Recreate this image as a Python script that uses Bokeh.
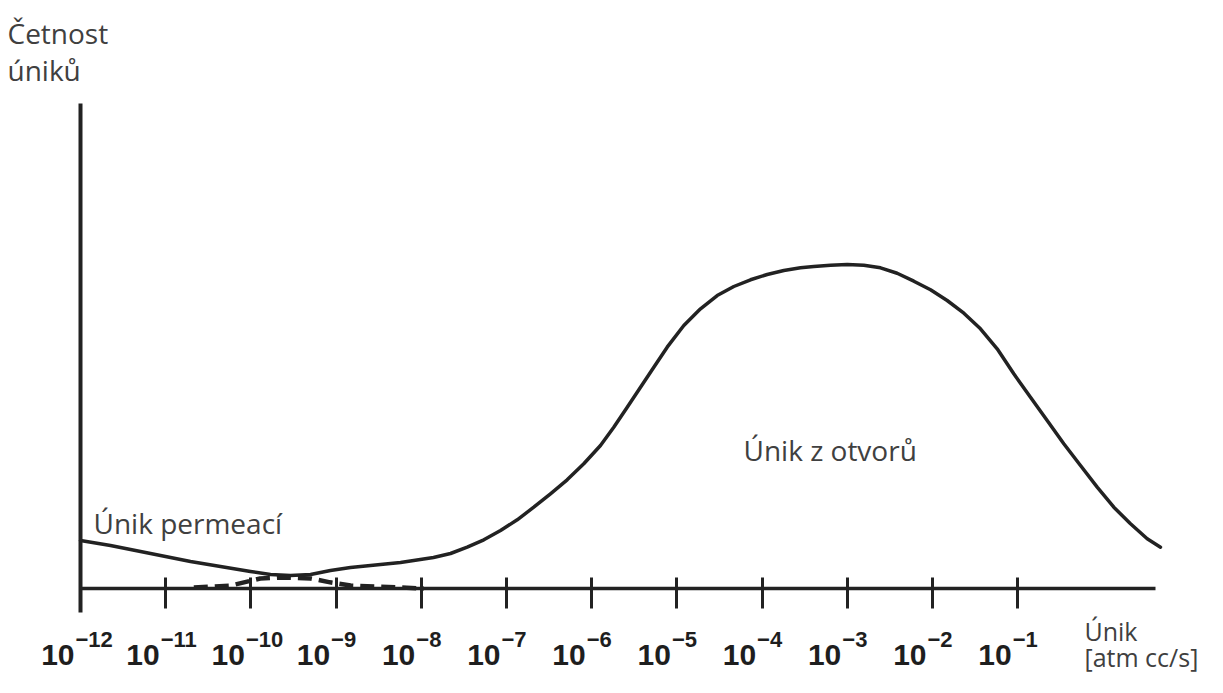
from bokeh.plotting import figure
from bokeh.models import Range1d, FixedTicker, Label
from bokeh.core.properties import value
from bokeh.embed import file_html
from bokeh.resources import INLINE

# ---- data (x = log10 of leak rate, y = relative frequency) ----
tick_exponents = [-12, -11, -10, -9, -8, -7, -6, -5, -4, -3, -2, -1]
tick_base = ["10"] * len(tick_exponents)
tick_powers = ["\u221212", "\u221211", "\u221210", "\u22129", "\u22128", "\u22127",
               "\u22126", "\u22125", "\u22124", "\u22123", "\u22122", "\u22121"]

total_x = [-12.000, -11.648, -11.178, -10.709, -10.357, -10.005, -9.770, -9.535, -9.300, -9.066,
           -8.831, -8.479, -8.244, -7.857, -7.657, -7.461, -7.266, -7.070, -6.874, -6.680,
           -6.484, -6.288, -6.093, -5.897, -5.741, -5.583, -5.427, -5.271, -5.114, -4.919,
           -4.723, -4.527, -4.332, -4.136, -3.940, -3.745, -3.549, -3.393, -3.197, -3.001,
           -2.806, -2.610, -2.415, -2.219, -2.023, -1.828, -1.632, -1.437, -1.241, -1.046,
           -0.850, -0.654, -0.459, -0.263, -0.067, 0.128, 0.324, 0.520, 0.676]
total_y = [14.81, 13.27, 10.80, 8.33, 6.79, 5.25, 4.32, 4.01, 4.32, 5.56,
           6.48, 7.41, 8.02, 9.57, 10.80, 12.75, 15.03, 17.90, 21.20, 25.09,
           29.23, 33.55, 38.49, 44.14, 49.78, 55.96, 62.13, 68.30, 74.48, 81.17,
           86.33, 90.43, 93.21, 95.28, 96.91, 98.15, 98.98, 99.38, 99.78, 100.0,
           99.78, 98.98, 97.31, 94.85, 92.19, 88.89, 84.97, 80.15, 73.98, 66.27,
           59.04, 51.85, 44.66, 37.96, 31.27, 25.09, 19.97, 15.34, 12.75]

perm_x = [-10.67, -10.24, -9.89, -9.62, -9.30, -9.07, -8.83, -8.24, -7.97]
perm_y = [0.3, 0.9, 3.1, 3.4, 3.1, 1.9, 0.9, 0.3, 0.0]

# ---- layout helpers (pixel -> data for annotation placement) ----
PX0, PXD = 80.0, 85.2      # px of 10^-12, px per decade
PY0, PYU = 588.0, 3.24     # px of zero line, px per unit
TSHIFT = 11                # text renders lower than its nominal baseline


def ex(px):
    return (px - PX0) / PXD - 12


def vy(py):
    return (PY0 - py) / PYU


def ty(py):
    return vy(py - TSHIFT)


W, H = 1207, 677
p = figure(width=W, height=H, output_backend="svg", toolbar_location=None,
           x_range=Range1d(ex(0), ex(W)), y_range=Range1d(vy(H), vy(0)),
           min_border=0, min_border_left=0, min_border_right=0,
           min_border_top=0, min_border_bottom=0)
p.outline_line_color = None
p.grid.visible = False
p.background_fill_color = "white"
p.border_fill_color = "white"

LINE = "#222222"

# x axis at zero line
xa = p.xaxis[0]
xa.fixed_location = 0
xa.ticker = FixedTicker(ticks=tick_exponents[1:])
xa.bounds = (tick_exponents[0], 0.62)
xa.axis_line_width = 3.5
xa.axis_line_color = LINE
xa.major_tick_in = 11
xa.major_tick_out = 20
xa.major_tick_line_width = 3
xa.major_tick_line_color = LINE
xa.minor_tick_line_color = None
xa.major_label_overrides = {t: "" for t in tick_exponents}
xa.major_label_text_font_size = "0px"

# y axis at 10^-12
ya = p.yaxis[0]
ya.fixed_location = tick_exponents[0]
ya.ticker = FixedTicker(ticks=[])
ya.bounds = (vy(612), vy(103))
ya.axis_line_width = 4
ya.axis_line_color = LINE
ya.major_tick_line_color = None
ya.minor_tick_line_color = None
ya.major_label_text_font_size = "0px"

# curves
p.line(total_x, total_y, line_color=LINE, line_width=3.5, line_join="round", line_cap="round")
p.line(perm_x, perm_y, line_color=LINE, line_width=4.5, line_dash="14 7")

# tick labels: 10 with superscript exponent
p.text(x=tick_exponents, y=[ty(665)] * len(tick_exponents), text=tick_base,
       text_align="right", text_baseline="alphabetic", x_offset=-6,
       text_font=value("Liberation Sans"), text_font_style="bold",
       text_font_size="30px", text_color="#1e1e1e")
p.text(x=tick_exponents, y=[ty(650)] * len(tick_exponents), text=tick_powers,
       text_align="left", text_baseline="alphabetic", x_offset=-5,
       text_font=value("Liberation Sans"), text_font_style="bold",
       text_font_size="22px", text_color="#1e1e1e")

TXT = "#404040"


def lab(txt, px, py, fs="28px"):
    p.add_layout(Label(x=ex(px), y=ty(py), text=txt, text_font="Open Sans",
                       text_font_size=fs, text_color=TXT,
                       text_align="left", text_baseline="alphabetic"))


lab("Četnost", 7, 43)
lab("úniků", 7, 80)
lab("Únik permeací", 93, 533)
lab("Únik z otvorů", 743, 460)
lab("Únik", 1084, 641, "25px")
lab("[atm cc/s]", 1084, 667, "25px")

open("out.html", "w").write(file_html(p, INLINE))
